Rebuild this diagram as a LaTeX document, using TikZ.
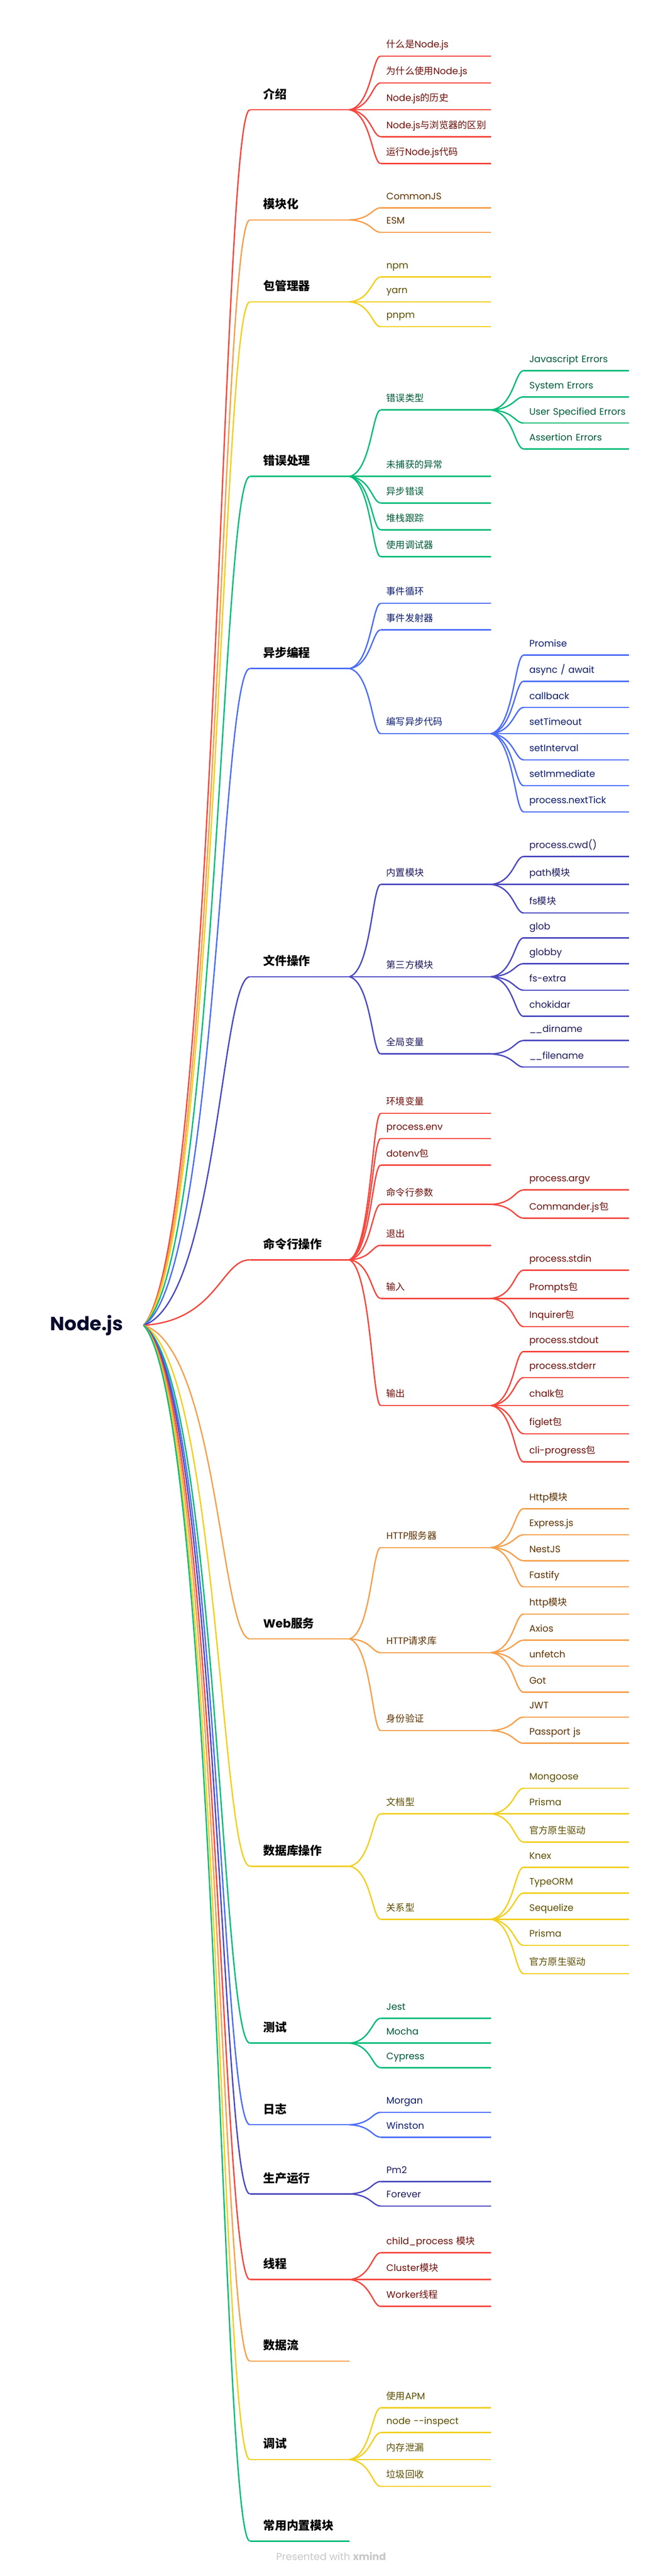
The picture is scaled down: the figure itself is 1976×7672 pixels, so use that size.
\documentclass[tikz,border=0pt]{standalone}
\usepackage{fontspec}
\setmainfont{Poppins}
\newfontfamily\zh{Noto Sans CJK SC}
\usetikzlibrary{calc}
\definecolor{cred}{HTML}{F5463D}
\definecolor{corange}{HTML}{F5A04D}
\definecolor{cyellow}{HTML}{F2CF1F}
\definecolor{cgreen}{HTML}{00BB78}
\definecolor{cblue}{HTML}{4B6DF7}
\definecolor{cindigo}{HTML}{4A48C0}
\definecolor{tred}{HTML}{6E0F0A}
\definecolor{torange}{HTML}{5E3200}
\definecolor{tyellow}{HTML}{5C4E00}
\definecolor{tgreen}{HTML}{005C38}
\definecolor{tblue}{HTML}{0C1C70}
\definecolor{tindigo}{HTML}{1E1B5E}
\definecolor{troot}{HTML}{0A0A2E}
\definecolor{cgray}{HTML}{C8C8C8}
\tikzstyle{wire} = [line width=1pt]
\tikzstyle{root} = [anchor=east, inner xsep=15pt, font=\fontsize{14.25pt}{16pt}\selectfont\bfseries, text=troot]
\tikzstyle{credit} = [font=\fontsize{7.5pt}{9pt}\selectfont, text=cgray]
\tikzset{
  topic/.style={anchor=south west, inner sep=0pt, inner ysep=8.25pt, text depth=0pt, text width=73.75pt, align=left,
    font=\fontsize{8.75pt}{10pt}\selectfont\bfseries,
    execute at begin node={\hspace*{9.75pt}\hbox\bgroup}, execute at end node={\egroup},
    append after command={(\tikzlastnode.south west) edge[wire, draw=c#1] (\tikzlastnode.south east)}},
  sub/.style={anchor=south west, inner sep=0pt, inner ysep=6pt, text depth=0pt, text width=81.75pt, align=left, text=t#1,
    font=\fontsize{7pt}{8pt}\selectfont,
    execute at begin node={\hspace*{4pt}\hbox\bgroup}, execute at end node={\egroup},
    append after command={(\tikzlastnode.south west) edge[wire, draw=c#1] (\tikzlastnode.south east)}},
  leaf/.style={sub=#1, text width=78.25pt}
}
\newcommand{\conn}[3]{\draw[wire, c#3] let \p1=(#1), \p2=(#2) in (\p1) .. controls ({\x1+0.69*(\x2-\x1)},{\y1+0.069*(\y2-\y1)}) and ({\x2-0.27*(\x2-\x1)},\y2) .. (\p2);}

\begin{document}
\begin{tikzpicture}[x=0.25pt, y=-0.25pt]
  \useasboundingbox[fill=white] (0,0) rectangle (1976,7672);
  \node [root] (nodejs) at (428,3947) {Node.js};

  \node [topic=red] (intro) at (745,327) {\zh 介绍};
  \node [topic=orange] (module) at (745,655) {\zh 模块化};
  \node [topic=yellow] (pkg) at (745,899) {\zh 包管理器};
  \node [topic=green] (err) at (745,1419) {\zh 错误处理};
  \node [topic=blue] (async) at (745,1991) {\zh 异步编程};
  \node [topic=indigo] (file) at (745,2909) {\zh 文件操作};
  \node [topic=red] (cli) at (745,3752) {\zh 命令行操作};
  \node [topic=orange] (web) at (745,4881) {Web{\zh 服务}};
  \node [topic=yellow] (db) at (745,5558) {\zh 数据库操作};
  \node [topic=green] (test) at (745,6085) {\zh 测试};
  \node [topic=blue] (log) at (745,6328) {\zh 日志};
  \node [topic=indigo] (prod) at (745,6534) {\zh 生产运行};
  \node [topic=red] (thread) at (745,6789) {\zh 线程};
  \node [topic=orange] (stream) at (745,7032) {\zh 数据流};
  \node [topic=yellow] (debug) at (745,7325) {\zh 调试};
  \node [topic=green] (builtin) at (745,7568) {\zh 常用内置模块};
  \conn{nodejs.east}{intro.south west}{red}
  \conn{nodejs.east}{module.south west}{orange}
  \conn{nodejs.east}{pkg.south west}{yellow}
  \conn{nodejs.east}{err.south west}{green}
  \conn{nodejs.east}{async.south west}{blue}
  \conn{nodejs.east}{file.south west}{indigo}
  \conn{nodejs.east}{cli.south west}{red}
  \conn{nodejs.east}{web.south west}{orange}
  \conn{nodejs.east}{db.south west}{yellow}
  \conn{nodejs.east}{test.south west}{green}
  \conn{nodejs.east}{log.south west}{blue}
  \conn{nodejs.east}{prod.south west}{indigo}
  \conn{nodejs.east}{thread.south west}{red}
  \conn{nodejs.east}{stream.south west}{orange}
  \conn{nodejs.east}{debug.south west}{yellow}
  \conn{nodejs.east}{builtin.south west}{green}

  \node [sub=red] (intro1) at (1135,167) {{\zh 什么是}Node.js};
  \node [sub=red] (intro2) at (1135,247) {{\zh 为什么使用}Node.js};
  \node [sub=red] (intro3) at (1135,327) {Node.js{\zh 的历史}};
  \node [sub=red] (intro4) at (1135,407) {Node.js{\zh 与浏览器的区别}};
  \node [sub=red] (intro5) at (1135,487) {{\zh 运行}Node.js{\zh 代码}};
  \conn{intro.south east}{intro1.south west}{red}
  \conn{intro.south east}{intro2.south west}{red}
  \conn{intro.south east}{intro3.south west}{red}
  \conn{intro.south east}{intro4.south west}{red}
  \conn{intro.south east}{intro5.south west}{red}

  \node [sub=orange] (cjs) at (1135,619) {CommonJS};
  \node [sub=orange] (esm) at (1135,692) {ESM};
  \conn{module.south east}{cjs.south west}{orange}
  \conn{module.south east}{esm.south west}{orange}

  \node [sub=yellow] (npm) at (1135,825) {npm};
  \node [sub=yellow] (yarn) at (1135,899) {yarn};
  \node [sub=yellow] (pnpm) at (1135,973) {pnpm};
  \conn{pkg.south east}{npm.south west}{yellow}
  \conn{pkg.south east}{yarn.south west}{yellow}
  \conn{pkg.south east}{pnpm.south west}{yellow}

  \node [sub=green] (errtype) at (1135,1221) {\zh 错误类型};
  \node [sub=green] (uncaught) at (1135,1419) {\zh 未捕获的异常};
  \node [sub=green] (asyncerr) at (1135,1498) {\zh 异步错误};
  \node [sub=green] (stack) at (1135,1578) {\zh 堆栈跟踪};
  \node [sub=green] (debugger) at (1135,1658) {\zh 使用调试器};
  \conn{err.south east}{errtype.south west}{green}
  \conn{err.south east}{uncaught.south west}{green}
  \conn{err.south east}{asyncerr.south west}{green}
  \conn{err.south east}{stack.south west}{green}
  \conn{err.south east}{debugger.south west}{green}
  \node [leaf=green] (jserr) at (1561,1104) {Javascript Errors};
  \node [leaf=green] (syserr) at (1561,1182) {System Errors};
  \node [leaf=green] (usererr) at (1561,1260) {User Specified Errors};
  \node [leaf=green] (asserterr) at (1561,1337) {Assertion Errors};
  \conn{errtype.south east}{jserr.south west}{green}
  \conn{errtype.south east}{syserr.south west}{green}
  \conn{errtype.south east}{usererr.south west}{green}
  \conn{errtype.south east}{asserterr.south west}{green}

  \node [sub=blue] (loop) at (1135,1797) {\zh 事件循环};
  \node [sub=blue] (emitter) at (1135,1876) {\zh 事件发射器};
  \node [sub=blue] (write) at (1135,2185) {\zh 编写异步代码};
  \conn{async.south east}{loop.south west}{blue}
  \conn{async.south east}{emitter.south west}{blue}
  \conn{async.south east}{write.south west}{blue}
  \node [leaf=blue] (promise) at (1561,1951) {Promise};
  \node [leaf=blue] (await) at (1561,2029) {async / await};
  \node [leaf=blue] (callback) at (1561,2107) {callback};
  \node [leaf=blue] (timeout) at (1561,2185) {setTimeout};
  \node [leaf=blue] (interval) at (1561,2263) {setInterval};
  \node [leaf=blue] (immediate) at (1561,2340) {setImmediate};
  \node [leaf=blue] (nexttick) at (1561,2418) {process.nextTick};
  \conn{write.south east}{promise.south west}{blue}
  \conn{write.south east}{await.south west}{blue}
  \conn{write.south east}{callback.south west}{blue}
  \conn{write.south east}{timeout.south west}{blue}
  \conn{write.south east}{interval.south west}{blue}
  \conn{write.south east}{immediate.south west}{blue}
  \conn{write.south east}{nexttick.south west}{blue}

  \node [sub=indigo] (inner) at (1135,2634) {\zh 内置模块};
  \node [sub=indigo] (third) at (1135,2909) {\zh 第三方模块};
  \node [sub=indigo] (global) at (1135,3139) {\zh 全局变量};
  \conn{file.south east}{inner.south west}{indigo}
  \conn{file.south east}{third.south west}{indigo}
  \conn{file.south east}{global.south west}{indigo}
  \node [leaf=indigo] (cwd) at (1561,2551) {process.cwd()};
  \node [leaf=indigo] (path) at (1561,2634) {path{\zh 模块}};
  \node [leaf=indigo] (fs) at (1561,2719) {fs{\zh 模块}};
  \conn{inner.south east}{cwd.south west}{indigo}
  \conn{inner.south east}{path.south west}{indigo}
  \conn{inner.south east}{fs.south west}{indigo}
  \node [leaf=indigo] (glob) at (1561,2793) {glob};
  \node [leaf=indigo] (globby) at (1561,2870) {globby};
  \node [leaf=indigo] (fsextra) at (1561,2949) {fs-extra};
  \node [leaf=indigo] (chokidar) at (1561,3027) {chokidar};
  \conn{third.south east}{glob.south west}{indigo}
  \conn{third.south east}{globby.south west}{indigo}
  \conn{third.south east}{fsextra.south west}{indigo}
  \conn{third.south east}{chokidar.south west}{indigo}
  \node [leaf=indigo] (dirname) at (1561,3099) {\_\kern-0.5pt\_dirname};
  \node [leaf=indigo] (filename) at (1561,3178) {\_\kern-0.5pt\_filename};
  \conn{global.south east}{dirname.south west}{indigo}
  \conn{global.south east}{filename.south west}{indigo}

  \node [sub=red] (envvar) at (1135,3316) {\zh 环境变量};
  \node [sub=red] (env) at (1135,3391) {process.env};
  \node [sub=red] (dotenv) at (1135,3470) {dotenv{\zh 包}};
  \node [sub=red] (args) at (1135,3587) {\zh 命令行参数};
  \node [sub=red] (exit) at (1135,3709) {\zh 退出};
  \node [sub=red] (input) at (1135,3867) {\zh 输入};
  \node [sub=red] (output) at (1135,4186) {\zh 输出};
  \conn{cli.south east}{envvar.south west}{red}
  \conn{cli.south east}{env.south west}{red}
  \conn{cli.south east}{dotenv.south west}{red}
  \conn{cli.south east}{args.south west}{red}
  \conn{cli.south east}{exit.south west}{red}
  \conn{cli.south east}{input.south west}{red}
  \conn{cli.south east}{output.south west}{red}
  \node [leaf=red] (argv) at (1561,3544) {process.argv};
  \node [leaf=red] (commander) at (1561,3628) {Commander.js{\zh 包}};
  \conn{args.south east}{argv.south west}{red}
  \conn{args.south east}{commander.south west}{red}
  \node [leaf=red] (stdin) at (1561,3783) {process.stdin};
  \node [leaf=red] (prompts) at (1561,3867) {Prompts{\zh 包}};
  \node [leaf=red] (inquirer) at (1561,3951) {Inquirer{\zh 包}};
  \conn{input.south east}{stdin.south west}{red}
  \conn{input.south east}{prompts.south west}{red}
  \conn{input.south east}{inquirer.south west}{red}
  \node [leaf=red] (stdout) at (1561,4025) {process.stdout};
  \node [leaf=red] (stderr) at (1561,4103) {process.stderr};
  \node [leaf=red] (chalk) at (1561,4186) {chalk{\zh 包}};
  \node [leaf=red] (figlet) at (1561,4270) {figlet{\zh 包}};
  \node [leaf=red] (progress) at (1561,4354) {cli-progress{\zh 包}};
  \conn{output.south east}{stdout.south west}{red}
  \conn{output.south east}{stderr.south west}{red}
  \conn{output.south east}{chalk.south west}{red}
  \conn{output.south east}{figlet.south west}{red}
  \conn{output.south east}{progress.south west}{red}

  \node [sub=orange] (server) at (1135,4609) {HTTP{\zh 服务器}};
  \node [sub=orange] (client) at (1135,4922) {HTTP{\zh 请求库}};
  \node [sub=orange] (auth) at (1135,5154) {\zh 身份验证};
  \conn{web.south east}{server.south west}{orange}
  \conn{web.south east}{client.south west}{orange}
  \conn{web.south east}{auth.south west}{orange}
  \node [leaf=orange] (httpmod) at (1561,4493) {Http{\zh 模块}};
  \node [leaf=orange] (express) at (1561,4571) {Express.js};
  \node [leaf=orange] (nest) at (1561,4648) {NestJS};
  \node [leaf=orange] (fastify) at (1561,4726) {Fastify};
  \conn{server.south east}{httpmod.south west}{orange}
  \conn{server.south east}{express.south west}{orange}
  \conn{server.south east}{nest.south west}{orange}
  \conn{server.south east}{fastify.south west}{orange}
  \node [leaf=orange] (http) at (1561,4807) {http{\zh 模块}};
  \node [leaf=orange] (axios) at (1561,4885) {Axios};
  \node [leaf=orange] (unfetch) at (1561,4962) {unfetch};
  \node [leaf=orange] (got) at (1561,5040) {Got};
  \conn{client.south east}{http.south west}{orange}
  \conn{client.south east}{axios.south west}{orange}
  \conn{client.south east}{unfetch.south west}{orange}
  \conn{client.south east}{got.south west}{orange}
  \node [leaf=orange] (jwt) at (1561,5114) {JWT};
  \node [leaf=orange] (passport) at (1561,5192) {Passport js};
  \conn{auth.south east}{jwt.south west}{orange}
  \conn{auth.south east}{passport.south west}{orange}

  \node [sub=yellow] (docdb) at (1135,5402) {\zh 文档型};
  \node [sub=yellow] (reldb) at (1135,5716) {\zh 关系型};
  \conn{db.south east}{docdb.south west}{yellow}
  \conn{db.south east}{reldb.south west}{yellow}
  \node [leaf=yellow] (mongoose) at (1561,5326) {Mongoose};
  \node [leaf=yellow] (prisma1) at (1561,5402) {Prisma};
  \node [leaf=yellow] (driver1) at (1561,5486) {\zh 官方原生驱动};
  \conn{docdb.south east}{mongoose.south west}{yellow}
  \conn{docdb.south east}{prisma1.south west}{yellow}
  \conn{docdb.south east}{driver1.south west}{yellow}
  \node [leaf=yellow] (knex) at (1561,5561) {Knex};
  \node [leaf=yellow] (typeorm) at (1561,5638) {TypeORM};
  \node [leaf=yellow] (sequelize) at (1561,5716) {Sequelize};
  \node [leaf=yellow] (prisma2) at (1561,5794) {Prisma};
  \node [leaf=yellow] (driver2) at (1561,5878) {\zh 官方原生驱动};
  \conn{reldb.south east}{knex.south west}{yellow}
  \conn{reldb.south east}{typeorm.south west}{yellow}
  \conn{reldb.south east}{sequelize.south west}{yellow}
  \conn{reldb.south east}{prisma2.south west}{yellow}
  \conn{reldb.south east}{driver2.south west}{yellow}

  \node [sub=green] (jest) at (1135,6011) {Jest};
  \node [sub=green] (mocha) at (1135,6085) {Mocha};
  \node [sub=green] (cypress) at (1135,6158) {Cypress};
  \conn{test.south east}{jest.south west}{green}
  \conn{test.south east}{mocha.south west}{green}
  \conn{test.south east}{cypress.south west}{green}

  \node [sub=blue] (morgan) at (1135,6291) {Morgan};
  \node [sub=blue] (winston) at (1135,6365) {Winston};
  \conn{log.south east}{morgan.south west}{blue}
  \conn{log.south east}{winston.south west}{blue}

  \node [sub=indigo] (pm2) at (1135,6497) {Pm2};
  \node [sub=indigo] (forever) at (1135,6570) {Forever};
  \conn{prod.south east}{pm2.south west}{indigo}
  \conn{prod.south east}{forever.south west}{indigo}

  \node [sub=red] (childproc) at (1135,6709) {child\_process {\zh 模块}};
  \node [sub=red] (cluster) at (1135,6789) {Cluster{\zh 模块}};
  \node [sub=red] (worker) at (1135,6869) {Worker{\zh 线程}};
  \conn{thread.south east}{childproc.south west}{red}
  \conn{thread.south east}{cluster.south west}{red}
  \conn{thread.south east}{worker.south west}{red}

  \node [sub=yellow] (apm) at (1135,7171) {{\zh 使用}APM};
  \node [sub=yellow] (inspect) at (1135,7245) {node -{}-inspect};
  \node [sub=yellow] (leak) at (1135,7325) {\zh 内存泄漏};
  \node [sub=yellow] (gc) at (1135,7405) {\zh 垃圾回收};
  \conn{debug.south east}{apm.south west}{yellow}
  \conn{debug.south east}{inspect.south west}{yellow}
  \conn{debug.south east}{leak.south west}{yellow}
  \conn{debug.south east}{gc.south west}{yellow}

  \node [credit] (credit) at (987,7613) {Presented with \textbf{xmind}};
\end{tikzpicture}
\end{document}
